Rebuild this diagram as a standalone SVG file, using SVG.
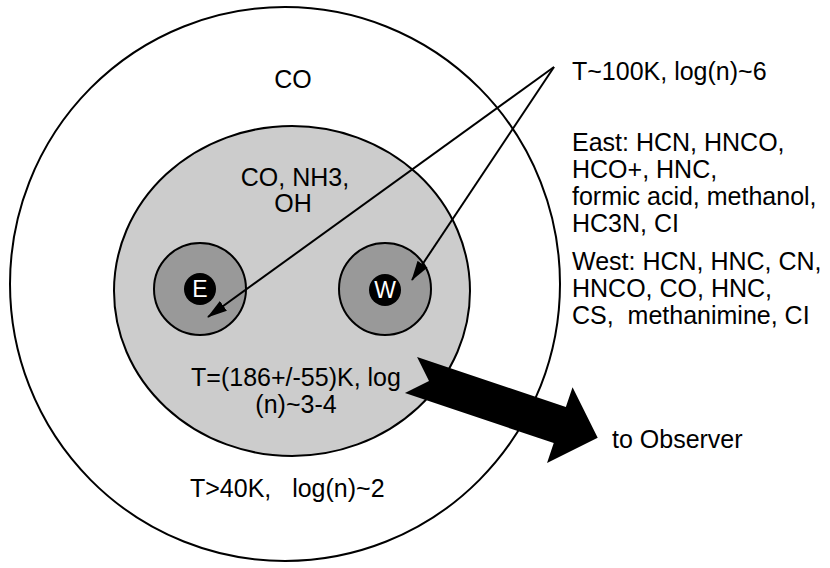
<svg xmlns="http://www.w3.org/2000/svg" width="830" height="568" viewBox="0 0 830 568">
<defs>
<style>
text{font-family:"Liberation Sans",Arial,sans-serif;font-size:25px;fill:#000}
.c{text-anchor:middle}
.ring{stroke:#000;stroke-width:2}
.con{stroke:#000;stroke-width:2;fill:none}
.lt{fill:#fff;font-size:23px}
</style>
<marker id="ah" markerWidth="20" markerHeight="12" refX="19" refY="6" orient="auto" markerUnits="userSpaceOnUse">
<path d="M0,0 L20,6 L0,12 Z" fill="#000"/>
</marker>
</defs>
<rect width="830" height="568" fill="#fff"/>
<g id="outer">
<ellipse class="ring" cx="285" cy="284" rx="275" ry="277" fill="#fff"/>
<text class="c" x="293" y="88">CO</text>
<text x="190" y="497" xml:space="preserve">T&gt;40K,   log(n)~2</text>
</g>
<g id="inner">
<ellipse class="ring" cx="292" cy="291" rx="178" ry="165" fill="#cccccc"/>
<text class="c" x="295" y="186">CO, NH3,</text>
<text class="c" x="293" y="212">OH</text>
<text class="c" x="296" y="386">T=(186+/-55)K, log</text>
<text class="c" x="296" y="413">(n)~3-4</text>
</g>
<g id="east">
<circle class="ring" cx="200" cy="289" r="46" fill="#999999"/>
<circle cx="200" cy="289" r="16" fill="#000"/>
<text class="c lt" x="200" y="297">E</text>
</g>
<g id="west">
<circle class="ring" cx="385" cy="289" r="46" fill="#999999"/>
<circle cx="385" cy="290" r="16" fill="#000"/>
<text class="c lt" x="385" y="298">W</text>
</g>
<g id="labels">
<text x="572" y="80">T~100K, log(n)~6</text>
<text x="572" y="151">East: HCN, HNCO,</text>
<text x="572" y="178">HCO+, HNC,</text>
<text x="572" y="205">formic acid, methanol,</text>
<text x="572" y="232">HC3N, CI</text>
<text x="572" y="270">West: HCN, HNC, CN,</text>
<text x="572" y="297">HNCO, CO, HNC,</text>
<text x="572" y="324" xml:space="preserve">CS,  methanimine, CI</text>
<text x="612" y="448">to Observer</text>
</g>
<g id="connectors">
<line class="con" x1="554" y1="67" x2="208" y2="317" marker-end="url(#ah)"/>
<line class="con" x1="554" y1="67" x2="412" y2="280" marker-end="url(#ah)"/>
<path d="M0,-19 L157,-19 L157,-40 L197,0 L157,40 L157,19 L0,19 L19,0 Z" fill="#000" transform="translate(411,375) rotate(18.6)"/>
</g>
</svg>
